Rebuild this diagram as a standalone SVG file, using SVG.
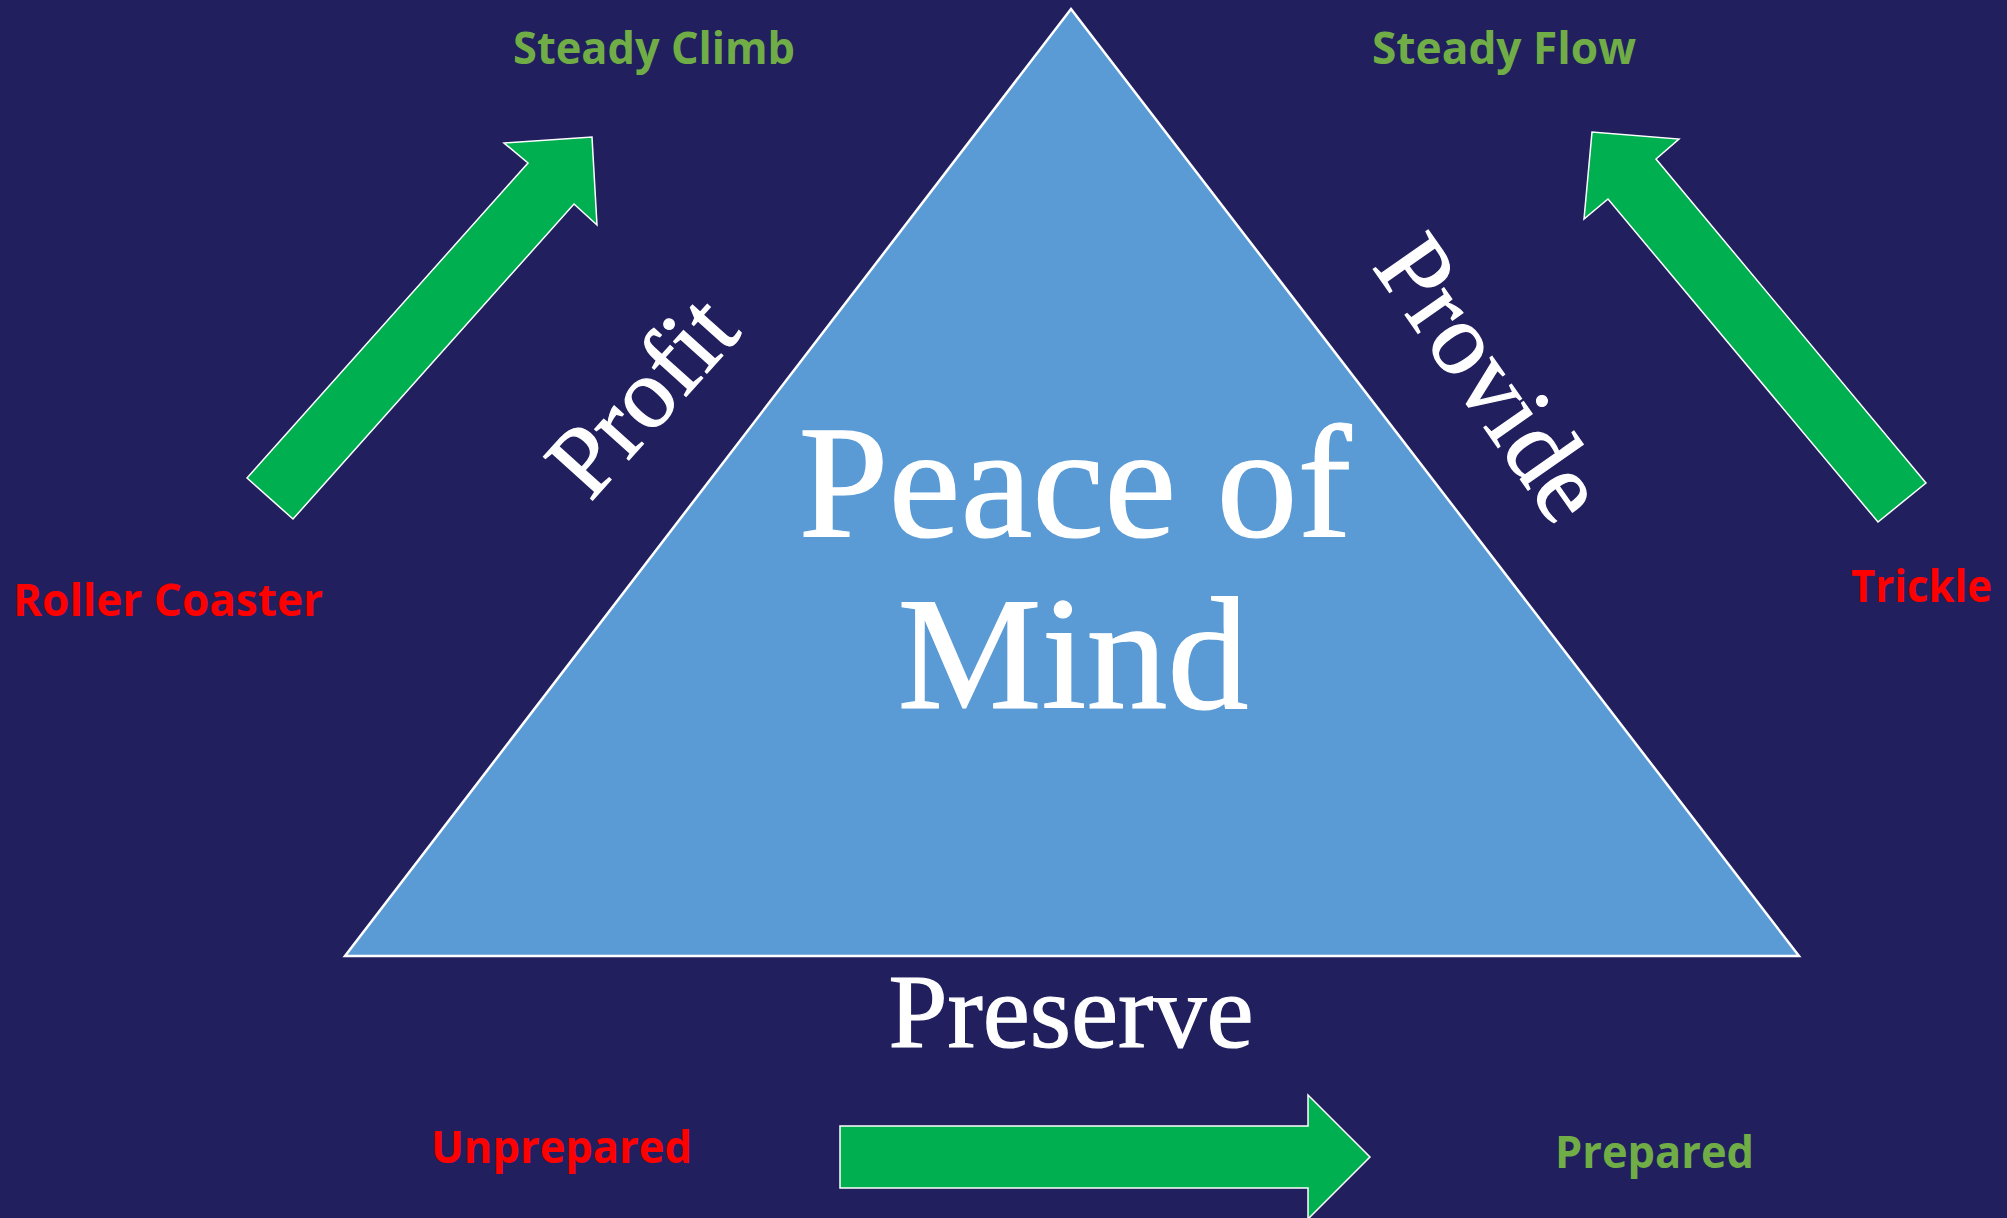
<svg xmlns="http://www.w3.org/2000/svg" width="2007" height="1218" viewBox="0 0 2007 1218">
<style>
.arrow{fill:#00B050;stroke:#FFFFFF;stroke-width:1.5;stroke-linejoin:miter}
.lbl{font-family:"Open Sans","Noto Sans","Liberation Sans",sans-serif;font-weight:bold;font-size:45px}
.good{fill:#70AD47}
.bad{fill:#FF0000}
.serif{font-family:"Liberation Serif","DejaVu Serif",serif;fill:#FFFFFF;stroke:#FFFFFF;stroke-width:1.2}
</style>
<rect x="0" y="0" width="2007" height="1218" fill="#211F5E"/>
<g id="triangle">
<polygon points="1071,9 1799,956 345,956" fill="#5B9BD5" stroke="#FFFFFF" stroke-width="2.5"/>
<text class="serif" x="1075" y="536" font-size="162" text-anchor="middle">Peace of</text>
<text class="serif" x="1073" y="708" font-size="162" text-anchor="middle">Mind</text>
</g>
<g id="profit"><text class="serif" font-size="100" text-anchor="middle" transform="translate(642,396) rotate(-48)" y="33">Profit</text></g>
<g id="provide"><text class="serif" font-size="103" text-anchor="middle" transform="translate(1491,378) rotate(55)" y="34">Provide</text></g>
<g id="preserve"><text class="serif" x="1071" y="1047" font-size="106" text-anchor="middle">Preserve</text></g>
<g id="connectors">
<polygon class="arrow" points="247,478 528,163 504,143 592,137 597,225 574,204 293,519"/>
<polygon class="arrow" points="1926,483 1656,159 1679,139 1592,132 1584,219 1608,199 1878,522"/>
<polygon class="arrow" points="840,1126 1308,1126 1308,1095 1370,1157 1308,1219 1308,1188 840,1188"/>
</g>
<g id="steady-climb"><text class="lbl good" x="513" y="64" textLength="282" lengthAdjust="spacingAndGlyphs">Steady Climb</text></g>
<g id="steady-flow"><text class="lbl good" x="1372" y="64" textLength="264" lengthAdjust="spacingAndGlyphs">Steady Flow</text></g>
<g id="roller-coaster"><text class="lbl bad" x="13" y="616" textLength="310" lengthAdjust="spacingAndGlyphs">Roller Coaster</text></g>
<g id="trickle"><text class="lbl bad" x="1851" y="602" textLength="141" lengthAdjust="spacingAndGlyphs">Trickle</text></g>
<g id="unprepared"><text class="lbl bad" x="431" y="1163" textLength="261" lengthAdjust="spacingAndGlyphs">Unprepared</text></g>
<g id="prepared"><text class="lbl good" x="1555" y="1168" textLength="199" lengthAdjust="spacingAndGlyphs">Prepared</text></g>
</svg>
